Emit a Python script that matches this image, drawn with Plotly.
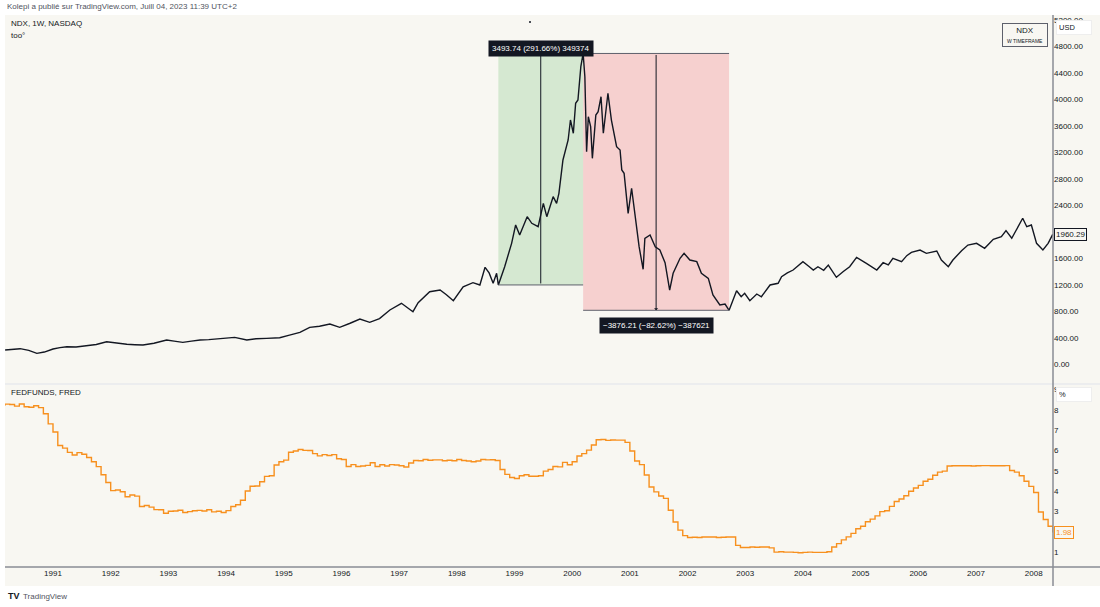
import plotly.graph_objects as go
from plotly.subplots import make_subplots

# NDX hebdo (annee decimale, cloture)
ndx_year = [
    1990.17, 1990.30, 1990.43, 1990.58, 1990.72, 1990.85, 1991.00, 1991.12, 1991.24, 1991.40,
    1991.58, 1991.75, 1991.93, 1992.10, 1992.28, 1992.42, 1992.56, 1992.75, 1992.97, 1993.10,
    1993.25, 1993.40, 1993.55, 1993.70, 1993.84, 1994.00, 1994.15, 1994.36, 1994.52, 1994.70,
    1994.93, 1995.10, 1995.28, 1995.45, 1995.62, 1995.80, 1995.97, 1996.15, 1996.32, 1996.49,
    1996.66, 1996.84, 1997.04, 1997.24, 1997.33, 1997.53, 1997.71, 1997.82, 1997.94, 1998.11,
    1998.28, 1998.40, 1998.49, 1998.56, 1998.63, 1998.69, 1998.72, 1998.83, 1998.95, 1999.02,
    1999.09, 1999.22, 1999.30, 1999.41, 1999.50, 1999.56, 1999.67, 1999.73, 1999.77, 1999.84,
    1999.93, 1999.97, 2000.02, 2000.06, 2000.10, 2000.15, 2000.19, 2000.22, 2000.25, 2000.28,
    2000.32, 2000.35, 2000.41, 2000.45, 2000.50, 2000.54, 2000.62, 2000.68, 2000.77, 2000.83,
    2000.86, 2000.90, 2000.94, 2000.97, 2001.03, 2001.09, 2001.16, 2001.23, 2001.26, 2001.35,
    2001.44, 2001.52, 2001.61, 2001.69, 2001.75, 2001.87, 2001.94, 2002.04, 2002.16, 2002.24,
    2002.36, 2002.44, 2002.56, 2002.65, 2002.72, 2002.85, 2002.93, 2002.99, 2003.08, 2003.20,
    2003.28, 2003.43, 2003.57, 2003.63, 2003.73, 2003.83, 2004.00, 2004.10, 2004.18, 2004.26,
    2004.36, 2004.44, 2004.58, 2004.70, 2004.81, 2004.93, 2005.02, 2005.10, 2005.28, 2005.39,
    2005.48, 2005.56, 2005.71, 2005.80, 2005.88, 2006.03, 2006.14, 2006.32, 2006.40, 2006.52,
    2006.60, 2006.68, 2006.75, 2006.86, 2007.01, 2007.15, 2007.22, 2007.30, 2007.44, 2007.52,
    2007.62, 2007.73, 2007.81, 2007.88, 2007.96, 2008.05, 2008.16, 2008.25, 2008.33,
]
ndx_close = [
    216, 228, 236, 210, 166, 185, 231, 252, 266, 262,
    276, 300, 341, 318, 302, 296, 291, 318, 367, 350,
    332, 350, 367, 372, 382, 398, 407, 367, 385, 392,
    402, 440, 483, 558, 575, 608, 558, 620, 684, 634,
    690, 820, 921, 794, 930, 1096, 1121, 1050, 960, 1171,
    1232, 1197, 1464, 1380, 1223, 1374, 1197.88, 1473, 1826, 2103,
    1952, 2228, 2128, 2077, 2430, 2228, 2530, 2430, 2581, 3084,
    3386, 3687, 3487, 3940, 3989, 4492, 4691.62, 4341, 3209, 3737,
    3587, 3109, 3763, 3813, 4039, 3487, 4091, 3687, 3285, 3235,
    2933, 2883, 2530, 2279, 2657, 2228, 1775, 1434, 1902, 1952,
    1775, 1725, 1534, 1121, 1374, 1600, 1675, 1574, 1549, 1374,
    1298, 1046, 895, 910, 815.41, 1111, 1020, 1072, 960, 1061,
    1020, 1197, 1223, 1323, 1380, 1423, 1549, 1480, 1423, 1473,
    1420, 1498, 1313, 1400, 1473, 1615, 1560, 1524, 1423, 1534,
    1500, 1600, 1549, 1640, 1690, 1725, 1675, 1710, 1574, 1473,
    1574, 1650, 1715, 1800, 1826, 1751, 1810, 1887, 1926, 2017,
    1902, 2077, 2204, 2077, 2103, 1826, 1725, 1826, 1960.29,
]

# FEDFUNDS mensuel a partir de janvier 1990
fed_start = 1990
fed_rate = [
    8.23, 8.24, 8.28, 8.26, 8.18, 8.29, 8.15, 8.13, 8.20, 8.11, 7.81, 7.31,  # 1990
    6.91, 6.25, 6.12, 5.91, 5.78, 5.90, 5.82, 5.66, 5.45, 5.21, 4.81, 4.43,  # 1991
    4.03, 4.06, 3.98, 3.73, 3.82, 3.76, 3.25, 3.30, 3.22, 3.10, 3.09, 2.92,  # 1992
    3.02, 3.03, 3.07, 2.96, 3.00, 3.04, 3.06, 3.03, 3.09, 2.99, 3.02, 2.96,  # 1993
    3.05, 3.25, 3.34, 3.56, 4.01, 4.25, 4.26, 4.47, 4.73, 4.76, 5.29, 5.45,  # 1994
    5.53, 5.92, 5.98, 6.05, 6.01, 6.00, 5.85, 5.74, 5.80, 5.76, 5.80, 5.60,  # 1995
    5.56, 5.22, 5.31, 5.22, 5.24, 5.27, 5.40, 5.22, 5.30, 5.24, 5.31, 5.29,  # 1996
    5.25, 5.19, 5.39, 5.51, 5.50, 5.56, 5.52, 5.54, 5.54, 5.50, 5.52, 5.50,  # 1997
    5.56, 5.51, 5.49, 5.45, 5.49, 5.56, 5.54, 5.55, 5.51, 5.07, 4.83, 4.68,  # 1998
    4.63, 4.76, 4.81, 4.74, 4.74, 4.76, 4.99, 5.07, 5.22, 5.20, 5.42, 5.30,  # 1999
    5.45, 5.73, 5.85, 6.02, 6.27, 6.53, 6.54, 6.50, 6.52, 6.51, 6.51, 6.40,  # 2000
    5.98, 5.49, 5.31, 4.80, 4.21, 3.97, 3.77, 3.65, 3.07, 2.49, 2.09, 1.82,  # 2001
    1.73, 1.74, 1.73, 1.75, 1.75, 1.75, 1.73, 1.74, 1.75, 1.75, 1.34, 1.24,  # 2002
    1.24, 1.26, 1.25, 1.26, 1.26, 1.22, 1.01, 1.03, 1.01, 1.01, 1.00, 0.98,  # 2003
    1.00, 1.01, 1.00, 1.00, 1.00, 1.03, 1.26, 1.43, 1.61, 1.76, 1.93, 2.16,  # 2004
    2.28, 2.50, 2.63, 2.79, 3.00, 3.04, 3.26, 3.50, 3.62, 3.78, 4.00, 4.16,  # 2005
    4.29, 4.49, 4.59, 4.79, 4.94, 4.99, 5.24, 5.25, 5.25, 5.25, 5.25, 5.24,  # 2006
    5.25, 5.26, 5.26, 5.25, 5.25, 5.25, 5.26, 5.02, 4.94, 4.76, 4.49, 4.24,  # 2007
    3.94, 2.98, 2.61, 2.28, 1.98,  # 2008
]

year_ticks = list(range(1991, 2009))
# graduations de prix (2000 est masque par l'etiquette du dernier cours)
prix_ticks = [0, 400, 800, 1200, 1600, 2400, 2800, 3200, 3600, 4000, 4400, 4800, 5200]
# graduations du taux (2 masque par l'etiquette 1.98)
taux_ticks = [1, 3, 4, 5, 6, 7, 8, 9]

# outil de mesure (hausse puis baisse)
hausse_debut, hausse_fin, baisse_fin = 1998.72, 2000.19, 2002.72
prix_bas, prix_haut, prix_fin = 1197.88, 4691.62, 815.41

BEIGE = "#f8f7f2"
TXT = "#131722"
ORANGE = "#f7901e"
GRIS = "#5d606b"
FONT = "Liberation Sans"

W, H = 1100, 607
L, R, T, B = 5, 47, 15, 40


def px_x(p):
    return (p - L) / (W - L - R)


def px_y(p):
    return (H - B - p) / (H - T - B)


fig = make_subplots(rows=2, cols=1, shared_xaxes=True)

fig.add_trace(go.Scatter(x=ndx_year, y=ndx_close, mode="lines",
                         line=dict(color=TXT, width=1.4), hoverinfo="skip"),
              row=1, col=1)

fed_x = [fed_start + i / 12 for i in range(len(fed_rate))]
fig.add_trace(go.Scatter(x=fed_x, y=fed_rate, mode="lines",
                         line=dict(color=ORANGE, width=1.4, shape="hv"), hoverinfo="skip"),
              row=2, col=1)

x_range = [1990.168, 2008.335]
fig.update_xaxes(range=x_range, showgrid=False, zeroline=False, showline=False, ticks="")
fig.update_xaxes(showticklabels=False, row=1, col=1)
fig.update_xaxes(tickvals=year_ticks, ticktext=[str(y) for y in year_ticks],
                 tickfont=dict(size=8, color=TXT, family=FONT), row=2, col=1)

fig.update_yaxes(side="right", showgrid=False, zeroline=False, showline=False, ticks="",
                 tickfont=dict(size=8, color=TXT, family=FONT))
fig.update_yaxes(domain=[px_y(383), 1], range=[-282, 5272], tickvals=prix_ticks,
                 ticktext=[f"{v:.2f}" for v in prix_ticks], row=1, col=1)
fig.update_yaxes(domain=[0, px_y(385)], range=[0.28, 9.22], tickvals=taux_ticks,
                 ticktext=[str(v) for v in taux_ticks], row=2, col=1)

shapes = [
    # fond beige de la zone graphique
    dict(type="rect", xref="paper", yref="paper", x0=px_x(5), x1=px_x(1100),
         y0=px_y(586), y1=px_y(15), fillcolor=BEIGE, line_width=0, layer="below"),
    # zones de mesure
    dict(type="rect", xref="x", yref="y", x0=hausse_debut, x1=hausse_fin, y0=prix_bas, y1=prix_haut,
         fillcolor="rgba(76,175,80,0.2)", line_width=0, layer="below"),
    dict(type="rect", xref="x", yref="y", x0=hausse_fin, x1=baisse_fin, y0=prix_fin, y1=prix_haut,
         fillcolor="rgba(242,54,69,0.2)", line_width=0, layer="below"),
    dict(type="line", xref="x", yref="y", x0=hausse_debut, x1=baisse_fin, y0=prix_haut, y1=prix_haut,
         line=dict(color=GRIS, width=1)),
    dict(type="line", xref="x", yref="y", x0=hausse_debut, x1=hausse_fin, y0=prix_bas, y1=prix_bas,
         line=dict(color=GRIS, width=1)),
    dict(type="line", xref="x", yref="y", x0=hausse_fin, x1=baisse_fin, y0=prix_fin, y1=prix_fin,
         line=dict(color=GRIS, width=1)),
    # separateur des panneaux
    dict(type="line", xref="paper", yref="paper", x0=px_x(5), x1=px_x(1100), y0=px_y(384), y1=px_y(384),
         line=dict(color="#e0e3eb", width=1)),
    # axes
    dict(type="line", xref="paper", yref="paper", x0=px_x(1053), x1=px_x(1053), y0=px_y(586), y1=px_y(15),
         line=dict(color="#8a8d95", width=1.5)),
    dict(type="line", xref="paper", yref="paper", x0=px_x(5), x1=px_x(1100), y0=px_y(567), y1=px_y(567),
         line=dict(color="#8a8d95", width=1.5)),
    # petit point au-dessus de la mesure
    dict(type="circle", xref="paper", yref="paper", x0=px_x(529), x1=px_x(531), y0=px_y(23), y1=px_y(21),
         fillcolor=TXT, line_width=0),
]

mid_h = (hausse_debut + hausse_fin) / 2
mid_b = (hausse_fin + baisse_fin) / 2
diff_h = prix_haut - prix_bas
diff_b = prix_fin - prix_haut
lab_h = f"{diff_h:.2f} ({diff_h / prix_bas * 100:.2f}%) {round(diff_h * 100)}"
lab_b = f"{diff_b:.2f} ({diff_b / prix_haut * 100:.2f}%) {round(diff_b * 100)}".replace("-", "\u2212")

annotations = [
    dict(x=mid_h, y=prix_haut, ax=mid_h, ay=prix_bas, xref="x", yref="y", axref="x", ayref="y",
         text="", showarrow=True, arrowhead=1, arrowsize=0.7, arrowwidth=1, arrowcolor=TXT),
    dict(x=mid_b, y=prix_fin, ax=mid_b, ay=prix_haut, xref="x", yref="y", axref="x", ayref="y",
         text="", showarrow=True, arrowhead=1, arrowsize=0.7, arrowwidth=1, arrowcolor=TXT),
    dict(x=mid_h, y=px_y(40), xref="x", yref="paper", text=lab_h, showarrow=False,
         font=dict(size=8, color="white", family=FONT), bgcolor=TXT, borderpad=3),
    dict(x=mid_b, y=px_y(325), xref="x", yref="paper", text=lab_b, showarrow=False,
         font=dict(size=8, color="white", family=FONT), bgcolor=TXT, borderpad=3),
    # textes d'en-tete
    dict(x=px_x(5), y=px_y(7), xref="paper", yref="paper", xanchor="left", yanchor="middle",
         text="Kolepi a publié sur TradingView.com, Juill 04, 2023 11:39 UTC+2", showarrow=False,
         font=dict(size=8, color="#50535e", family=FONT)),
    dict(x=px_x(9), y=px_y(24), xref="paper", yref="paper", xanchor="left", yanchor="middle",
         text="NDX, 1W, NASDAQ", showarrow=False, font=dict(size=8, color=TXT, family=FONT)),
    dict(x=px_x(9), y=px_y(36), xref="paper", yref="paper", xanchor="left", yanchor="middle",
         text="too°", showarrow=False, font=dict(size=8, color=TXT, family=FONT)),
    dict(x=px_x(9), y=px_y(393), xref="paper", yref="paper", xanchor="left", yanchor="middle",
         text="FEDFUNDS, FRED", showarrow=False, font=dict(size=8, color=TXT, family=FONT)),
    # cadre NDX en haut a droite
    dict(x=px_x(1025), y=px_y(35), xref="paper", yref="paper", xanchor="center", yanchor="middle",
         text="NDX<br><span style='font-size:5px'>W TIMEFRAME</span>", showarrow=False,
         font=dict(size=8, color=TXT, family=FONT), bgcolor=BEIGE, bordercolor=GRIS,
         borderwidth=1, borderpad=2, width=40),
    # etiquettes d'axe
    dict(x=px_x(1056), y=px_y(28), xref="paper", yref="paper", xanchor="left", yanchor="middle",
         text="USD", showarrow=False, font=dict(size=7.5, color=TXT, family=FONT), align="left",
         bgcolor="white", bordercolor="#eeeeee", borderwidth=1, borderpad=2, width=30),
    dict(x=px_x(1056), y=px_y(394), xref="paper", yref="paper", xanchor="left", yanchor="middle",
         text="%", showarrow=False, font=dict(size=7.5, color=TXT, family=FONT), align="left",
         bgcolor="white", bordercolor="#eeeeee", borderwidth=1, borderpad=2, width=30),
    dict(x=px_x(1054), y=ndx_close[-1], xref="paper", yref="y", xanchor="left", yanchor="middle",
         text=f"{ndx_close[-1]:.2f}", showarrow=False, font=dict(size=8, color=TXT, family=FONT),
         bgcolor=BEIGE, bordercolor=TXT, borderwidth=1, borderpad=1),
    dict(x=px_x(1054), y=fed_rate[-1], xref="paper", yref="y2", xanchor="left", yanchor="middle",
         text=f"{fed_rate[-1]:.2f}", showarrow=False, font=dict(size=8, color=ORANGE, family=FONT),
         bgcolor=BEIGE, bordercolor=ORANGE, borderwidth=1, borderpad=1),
    # pied de page
    dict(x=px_x(6), y=px_y(596), xref="paper", yref="paper", xanchor="left", yanchor="middle",
         text="<b>TV</b>", showarrow=False, font=dict(size=9, color=TXT, family=FONT)),
    dict(x=px_x(21), y=px_y(596), xref="paper", yref="paper", xanchor="left", yanchor="middle",
         text="TradingView", showarrow=False, font=dict(size=8, color="#50535e", family=FONT)),
]

fig.update_layout(
    width=W, height=H,
    margin=dict(l=L, r=R, t=T, b=B),
    paper_bgcolor="white", plot_bgcolor=BEIGE,
    showlegend=False,
    shapes=shapes, annotations=annotations,
    font=dict(family=FONT, color=TXT),
)

# la page par defaut ajoute une marge de 8 px autour du graphique
fig.write_html("out.html", config={"displayModeBar": False},
               post_script="document.body.style.margin='0px';")
